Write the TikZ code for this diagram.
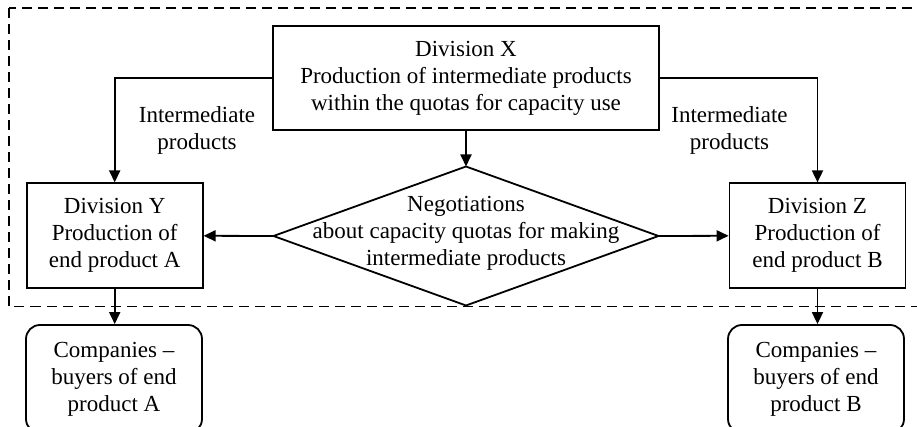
\documentclass[tikz,border=0pt]{standalone}
\usepackage{fontspec}
\setmainfont{Liberation Serif}
\usetikzlibrary{arrows.meta,shapes.geometric}

\begin{document}
\begin{tikzpicture}[x=0.5pt,y=-0.5pt,line width=0.9pt,
    >={Triangle[length=6pt,width=5.5pt]},
    font=\fontsize{11.5}{13.5}\selectfont,
    box/.style={draw,align=center,inner sep=0pt,minimum width=88pt,minimum height=52.5pt},
    buyer/.style={box,rounded corners=7pt,minimum height=54pt},
    txt/.style={align=center,inner sep=0pt}]

\useasboundingbox (0,0) rectangle (917,427);

% Frame of the company
\draw[line width=0.7pt,dash pattern=on 5pt off 3pt] (9,8) rectangle (930,306.5);

% Divisions
\node[box,minimum width=193pt,minimum height=52pt] (divX) at (466,78)
    {Division X\\Production of intermediate products\\within the quotas for capacity use};
\node[box] (divY) at (114.7,235.8) {Division Y\\Production of\\end product A};
\node[box] (divZ) at (817.5,235.8) {Division Z\\Production of\\end product B};

% Negotiations
\node[draw,diamond,inner sep=0pt,outer sep=0pt,
    minimum width=192.5pt,minimum height=69.5pt] (negot) at (466,236) {};
\node[txt] (negtext) at (466,233)
    {Negotiations\\about capacity quotas for making\\intermediate products};

% Buyers
\node[buyer] (buyA) at (114,379) {Companies --\\buyers of end\\product A};
\node[buyer] (buyB) at (816,379) {Companies --\\buyers of end\\product B};

% Flow labels
\node[txt] (lblL) at (197,130) {Intermediate\\products};
\node[txt] (lblR) at (729.5,130) {Intermediate\\products};

% Arrows
\draw[->] (divX.west) -| (divY.north);
\draw[->] (divX.east) -| (divZ.north);
\draw[->] (divX.south) -- (negot.north);
\draw[->] (negot.west) -- (divY.east);
\draw[->] (negot.east) -- (divZ.west);
\draw[->] (divY.south) -- (divY.south |- buyA.north);
\draw[->] (divZ.south) -- (divZ.south |- buyB.north);

\end{tikzpicture}
\end{document}
